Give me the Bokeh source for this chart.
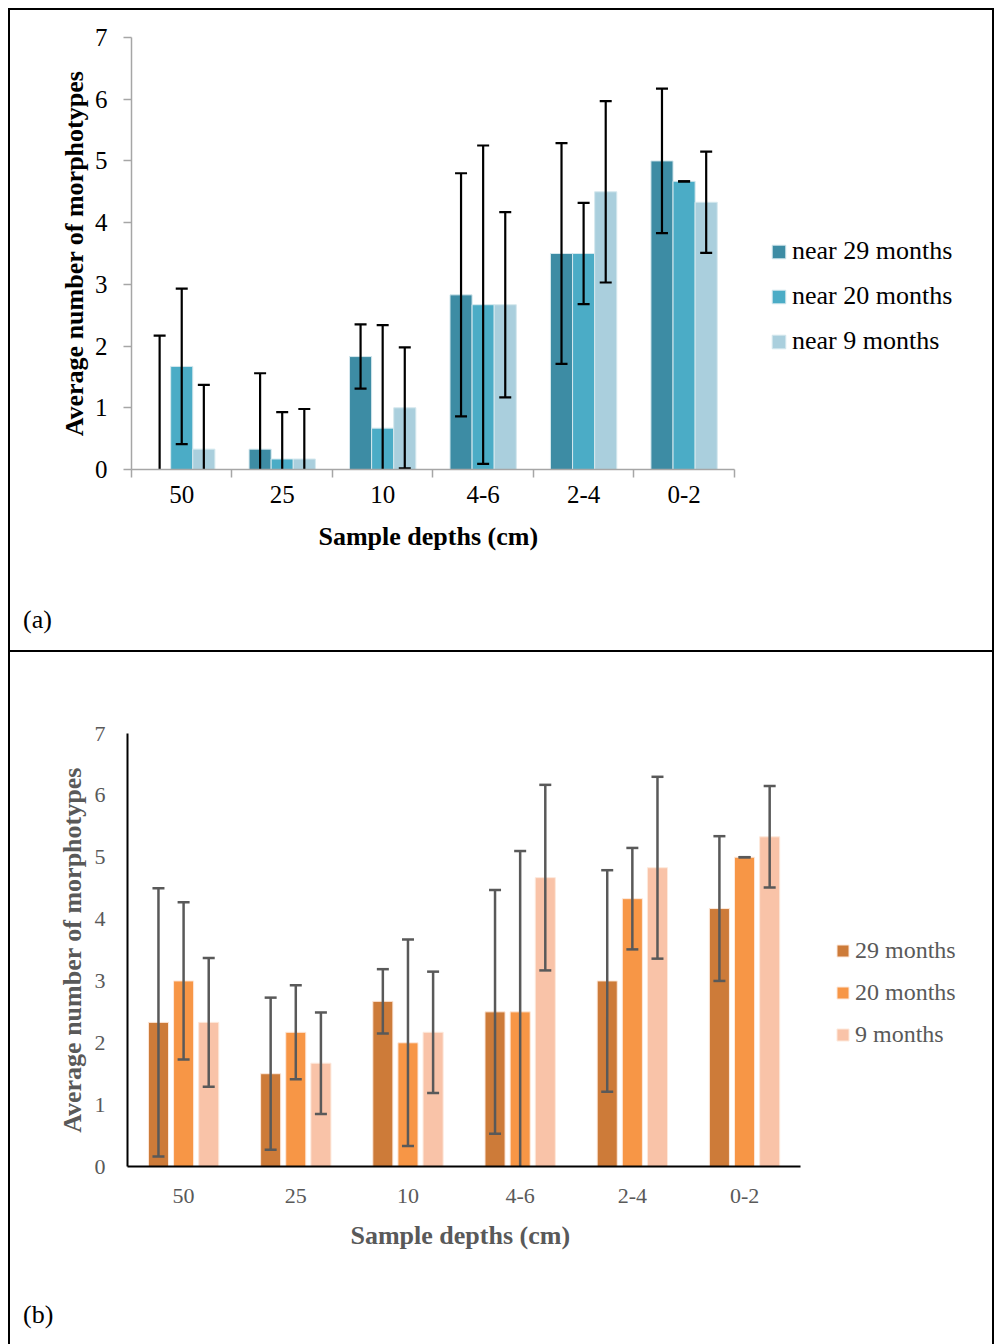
from bokeh.plotting import figure
from bokeh.models import (Range1d, FixedTicker, Legend, LegendItem, Title,
                          ColumnDataSource, Div)
from bokeh.layouts import column
from bokeh.embed import file_html
from bokeh.resources import INLINE

categories = ["50", "25", "10", "4-6", "2-4", "0-2"]
y_ticks = [0, 1, 2, 3, 4, 5, 6, 7]

# Panel (a)
a_labels = ["near 29 months", "near 20 months", "near 9 months"]
a_29 = [0.0, 0.33, 1.83, 2.83, 3.5, 5.0]
a_29_err = [2.17, 1.23, 0.52, 1.97, 1.79, 1.17]
a_20 = [1.67, 0.17, 0.67, 2.67, 3.5, 4.67]
a_20_err = [1.26, 0.76, 1.67, 2.58, 0.82, 0.0]
a_9 = [0.33, 0.17, 1.0, 2.67, 4.5, 4.33]
a_9_err = [1.04, 0.81, 0.98, 1.5, 1.47, 0.82]

# Panel (b)
b_labels = ["29 months", "20 months", "9 months"]
b_29 = [2.33, 1.5, 2.67, 2.5, 3.0, 4.17]
b_29_err = [2.17, 1.23, 0.52, 1.97, 1.79, 1.17]
b_20 = [3.0, 2.17, 2.0, 2.5, 4.33, 5.0]
b_20_err = [1.27, 0.76, 1.67, 2.6, 0.82, 0.0]
b_9 = [2.33, 1.67, 2.17, 4.67, 4.83, 5.33]
b_9_err = [1.04, 0.82, 0.98, 1.5, 1.47, 0.82]

FONT = "Liberation Serif"
BORDER = "2px solid black"


def make_panel(series, errs, labels, colors, cfg):
    n = len(categories)
    # the frame also holds the legend area to the right of the bars
    x_end = n * cfg["fw"] / cfg["cw"]
    p = figure(frame_width=cfg["fw"], frame_height=cfg["fh"],
               x_range=Range1d(0, x_end),
               y_range=Range1d(0, 7), output_backend="svg", toolbar_location=None,
               min_border_left=cfg["ml"], min_border_right=cfg["mr"],
               min_border_top=cfg["mt"], min_border_bottom=cfg["mb"])
    p.grid.visible = False
    p.outline_line_color = None
    p.styles = cfg["styles"]
    xs = [i + 0.5 for i in range(n)]
    items = []
    srcs = []
    for k, (vals, err, lab, col) in enumerate(zip(series, errs, labels, colors)):
        off = (k - 1) * cfg["step"]
        src = ColumnDataSource(dict(
            x=[x + off for x in xs], top=vals,
            up=[v + e for v, e in zip(vals, err)],
            lo=[v - e for v, e in zip(vals, err)]))
        srcs.append(src)
        r = p.vbar(x="x", top="top", bottom=0, width=cfg["bw"], source=src,
                   fill_color=col, line_color=cfg["edge"], line_width=1)
        items.append(LegendItem(label=lab, renderers=[r]))
    for src in srcs:
        p.segment(x0="x", y0="lo", x1="x", y1="up", source=src,
                  line_color=cfg["ecol"], line_width=cfg["ew"])
        p.scatter(x="x", y="up", marker="dash", size=12, source=src,
                  line_color=cfg["ecol"], line_width=cfg["ew"])
        p.scatter(x="x", y="lo", marker="dash", size=12, source=src,
                  line_color=cfg["ecol"], line_width=cfg["ew"])

    xa = p.xaxis[0]
    xa.bounds = (0, n)
    xa.ticker = FixedTicker(ticks=xs, minor_ticks=cfg["xminor"])
    xa.major_label_overrides = {x: c for x, c in zip(xs, categories)}
    xa.major_tick_out = 0
    xa.major_tick_in = 0
    xa.minor_tick_in = 0
    xa.minor_tick_out = 8
    xa.minor_tick_line_color = cfg["axcol"]
    xa.minor_tick_line_width = cfg["axw"]
    xa.axis_line_color = cfg["axcol"]
    xa.axis_line_width = cfg["axw"]
    xa.major_label_text_font = FONT
    xa.major_label_text_font_size = cfg["tfs"]
    xa.major_label_text_color = cfg["tcol"]
    xa.major_label_standoff = cfg["xstand"]

    # x-axis title, centred under the bars (not under the wider frame)
    xt = Title(text="Sample depths (cm)", align="left", offset=cfg["xtoff"],
               standoff=cfg["xtstand"], text_font=FONT, text_font_size="26px",
               text_font_style="bold", text_color=cfg["tcol"])
    p.add_layout(xt, "below")

    ya = p.yaxis[0]
    ya.ticker = FixedTicker(ticks=y_ticks)
    ya.major_tick_out = cfg["ytick"]
    ya.major_tick_in = 0
    ya.minor_tick_out = 0
    ya.minor_tick_in = 0
    ya.major_tick_line_color = cfg["axcol"]
    ya.major_tick_line_width = cfg["axw"]
    ya.axis_line_color = cfg["axcol"]
    ya.axis_line_width = cfg["axw"]
    ya.major_label_text_font = FONT
    ya.major_label_text_font_size = cfg["tfs"]
    ya.major_label_text_color = cfg["tcol"]
    ya.major_label_standoff = cfg["ystand"]
    ya.axis_label = "Average number of morphotypes"
    ya.axis_label_text_font = FONT
    ya.axis_label_text_font_style = "bold"
    ya.axis_label_text_font_size = "26px"
    ya.axis_label_text_color = cfg["tcol"]
    ya.axis_label_standoff = cfg["ylstand"]

    leg = Legend(items=items, location=cfg["legloc"], orientation="vertical",
                 label_text_font=FONT, label_text_font_size=cfg["lfs"],
                 label_text_color=cfg["tcol"], glyph_width=cfg["gw"],
                 glyph_height=cfg["gw"], label_standoff=cfg["lstand"],
                 spacing=cfg["lsp"], padding=0, margin=0, border_line_color=None,
                 background_fill_color=None, background_fill_alpha=0,
                 label_height=cfg["lh"])
    p.add_layout(leg, "center")

    tag = Div(text=('<div style="margin-left:13px; font-family:\'Liberation Serif\';'
                    ' font-size:26px; line-height:30px; color:black;">%s</div>' % cfg["tag"]),
              width=986, height=cfg["divh"], margin=(0, 0, 0, 0),
              styles=cfg["divstyles"])
    return column(p, tag)


cfg_a = dict(fw=851, cw=600, fh=430, ml=121, mr=10, mt=27, mb=138, step=0.22, bw=0.22,
             edge="#d5e8ee", ecol="black", ew=2.2, xminor=list(range(7)),
             axcol="#a6a6a6", axw=1.5, tfs="25px", tcol="black", xstand=8,
             xtoff=187, xtstand=28, ytick=8, ystand=16, ylstand=3, legloc=(639, 113),
             lfs="26px", gw=17, lstand=5, lsp=15, lh=30, tag="(a)", divh=47,
             styles={"border-top": BORDER, "border-left": BORDER, "border-right": BORDER},
             divstyles={"border-bottom": BORDER, "border-left": BORDER,
                        "border-right": BORDER})
cfg_b = dict(fw=855, cw=670, fh=433, ml=117, mr=10, mt=81, mb=134, step=0.224, bw=0.179,
             edge="#fde9dc", ecol="#595959", ew=2.5, xminor=[],
             axcol="black", axw=2, tfs="22px", tcol="#595959", xstand=22,
             xtoff=223, xtstand=26, ytick=0, ystand=22, ylstand=5, legloc=(708, 118),
             lfs="24px", gw=15, lstand=5, lsp=14, lh=28, tag="(b)", divh=44,
             styles={"border-left": BORDER, "border-right": BORDER},
             divstyles={"border-left": BORDER, "border-right": BORDER})

pa = make_panel([a_29, a_20, a_9], [a_29_err, a_20_err, a_9_err], a_labels,
                ["#3d8ca4", "#4bacc6", "#aacfdd"], cfg_a)
pb = make_panel([b_29, b_20, b_9], [b_29_err, b_20_err, b_9_err], b_labels,
                ["#cd7b39", "#f79646", "#f9c3a8"], cfg_b)

layout = column(pa, pb, margin=(8, 0, 0, 8))
open("out.html", "w").write(file_html(layout, INLINE))
